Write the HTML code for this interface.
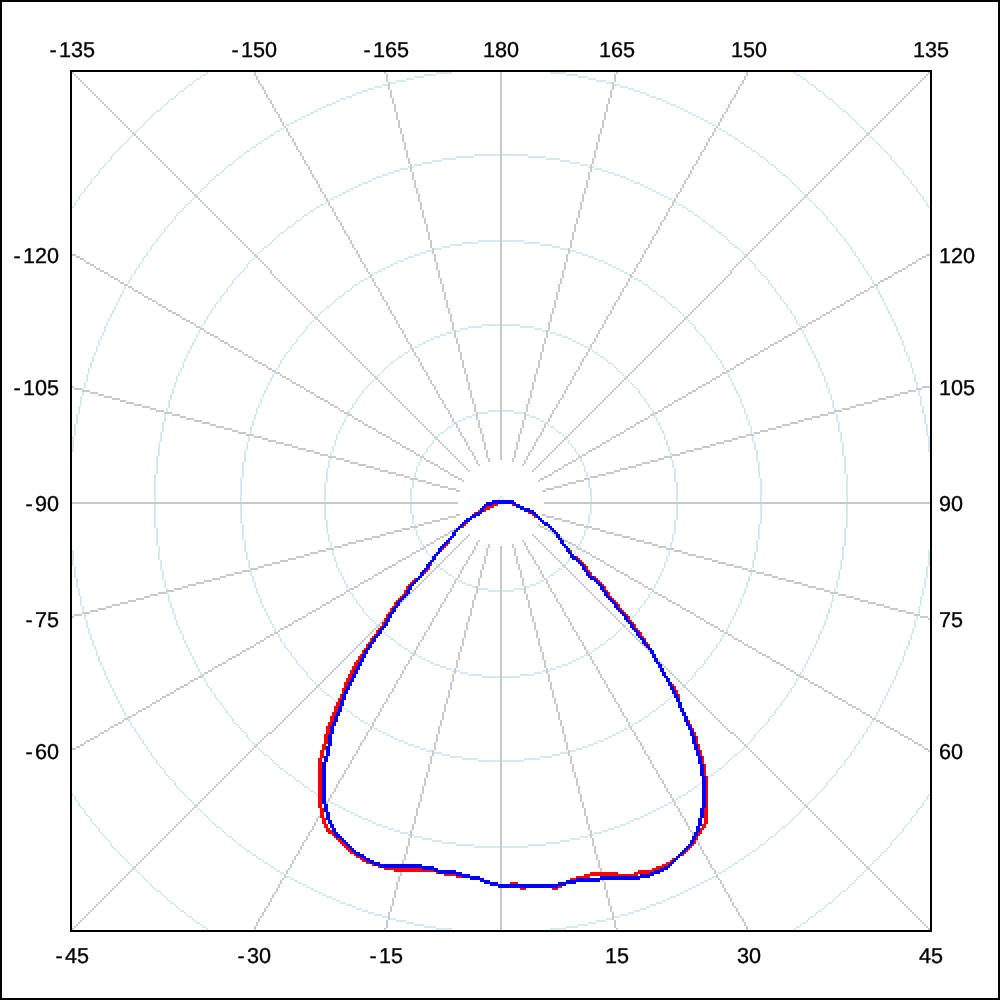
<!DOCTYPE html>
<html><head><meta charset="utf-8"><title>Polar diagram</title>
<style>
html,body{margin:0;padding:0;background:#fff;overflow:hidden;}
svg{display:block}
text{font-family:"Liberation Sans","DejaVu Sans",sans-serif;font-size:21.6px;fill:#000;stroke:#000;stroke-width:0.35px;}
</style></head><body>
<svg width="1000" height="1000" viewBox="0 0 1000 1000">
<rect x="0" y="0" width="1000" height="1000" fill="#fff"/>
<g transform="scale(2)" fill="none" stroke-width="1" shape-rendering="crispEdges">
<g stroke="#d4eaf2"><path transform="translate(0,0.5)" d="M0 0m218 36h8m49 0h8m-182 1h2m109 0h6m65 0h6m109 0h2m-193 1h5m77 0h5m-196 1h2m103 0h4m87 0h4m103 0h2m-205 1h5m95 0h5m-108 1h3m105 0h3m-212 1h2m95 0h3m113 0h3m95 0h2m-220 1h4m119 0h4m-130 1h3m127 0h3m-227 1h2m89 0h3m133 0h3m89 0h2m-233 1h3m139 0h3m-147 1h2m145 0h2m-152 1h3m149 0h3m-243 1h2m83 0h3m155 0h3m83 0h2m-248 1h2m161 0h2m-167 1h2m165 0h2m-172 1h3m169 0h3m-177 1h2m175 0h2m-181 1h2m179 0h2m-264 1h2m77 0h2m183 0h2m77 0h2m-268 1h2m187 0h2m-193 1h2m191 0h2m-197 1h2m195 0h2m-201 1h2m199 0h2m-205 1h2m203 0h2m-209 1h2m207 0h2m-213 1h2m211 0h2m-218 2h2m217 0h2m-223 1h2m221 0h2m-228 2h2m227 0h2m-234 2h2m233 0h2m-240 2h2m239 0h2m-246 2h2m245 0h2m-252 2h2m251 0h2m-141 2h13m1 0h13m-145 1h2m107 0h9m27 0h9m107 0h2m-161 1h7m45 0h7m-64 1h5m59 0h5m-74 1h5m69 0h5m-176 1h2m91 0h4m79 0h4m91 0h2m-187 2h4m93 0h4m-104 1h3m101 0h3m-110 1h3m107 0h3m-199 1h2m81 0h3m113 0h3m81 0h2m-205 1h3m119 0h3m-127 1h2m125 0h2m-131 1h2m129 0h2m-136 1h3m133 0h3m-141 1h2m139 0h2m-145 1h2m143 0h2m-149 1h2m147 0h2m-153 1h2m151 0h2m-157 1h2m155 0h2m-161 1h2m159 0h2m-165 1h2m163 0h2m-169 1h2m167 0h2m-176 3h2m177 0h2m-183 1h2m181 0h2m-188 2h2m187 0h2m-194 2h2m193 0h2m-201 3h2m201 0h2m-209 3h2m209 0h2m-217 3h2m217 0h2m-122 4h11m1 0h11m-31 1h8m23 0h8m-45 1h6m39 0h6m-144 1h2m87 0h4m51 0h4m87 0h2m-152 1h4m59 0h4m-71 1h3m69 0h3m-78 1h3m75 0h3m-84 1h3m81 0h3m-90 1h3m87 0h3m-95 1h2m93 0h2m-100 1h3m97 0h3m-105 1h2m103 0h2m-109 1h2m107 0h2m-113 1h2m111 0h2m-117 1h2m115 0h2m-121 1h2m119 0h2m-125 1h2m123 0h2m-132 3h2m133 0h2m-139 1h2m137 0h2m-144 2h2m143 0h2m-151 3h2m151 0h2m-159 3h2m159 0h2m-169 5h2m171 0h2m-97 9h9m1 0h9m-26 1h7m19 0h7m-37 1h4m33 0h4m-43 1h2m41 0h2m-50 1h3m49 0h3m-58 1h3m55 0h3m-64 1h3m61 0h3m-69 1h2m67 0h2m-73 1h2m71 0h2m-77 1h2m75 0h2m-81 1h2m79 0h2m-85 1h2m83 0h2m-92 3h2m93 0h2m-100 2h2m99 0h2m-107 3h2m107 0h2m-62 24h6m1 0h6m-18 1h5m13 0h5m-26 1h2m25 0h2m-32 1h3m29 0h3m-37 1h2m35 0h2m-41 1h2m39 0h2m-48 3h2m49 0h2m-57 3h2m57 0h2m-61 68h2m57 0h2m-57 3h2m49 0h2m-48 3h2m39 0h2m-41 1h2m35 0h2m-37 1h3m29 0h3m-32 1h2m25 0h2m-26 1h5m13 0h5m-18 1h6m1 0h6m-62 24h2m107 0h2m-107 3h2m99 0h2m-100 2h2m93 0h2m-94 2h2m87 0h2m-89 1h2m83 0h2m-85 1h2m79 0h2m-81 1h2m75 0h2m-77 1h2m71 0h2m-73 1h2m67 0h2m-69 1h3m61 0h3m-64 1h3m55 0h3m-58 1h3m49 0h3m-50 1h2m41 0h2m-43 1h4m33 0h4m-37 1h7m19 0h7m-26 1h9m1 0h9m-97 9h2m165 5h2m-159 3h2m151 0h2m-151 3h2m143 0h2m-144 2h2m137 0h2m-139 1h2m133 0h2m-132 3h2m123 0h2m-125 1h2m119 0h2m-121 1h2m115 0h2m-117 1h2m111 0h2m-113 1h2m107 0h2m-109 1h2m103 0h2m-105 1h3m97 0h3m-100 1h2m93 0h2m-95 1h3m87 0h3m-90 1h3m81 0h3m-84 1h3m75 0h3m-78 1h3m69 0h3m-71 1h4m59 0h4m-152 1h2m87 0h4m51 0h4m87 0h2m-144 1h6m39 0h6m-45 1h8m23 0h8m-31 1h11m1 0h11m-122 4h2m217 0h2m-217 3h2m209 0h2m-209 3h2m2 3h2m193 0h2m-194 2h2m187 0h2m-5 2h2m-4 1h2m-176 3h2m167 0h2m-169 1h2m163 0h2m-165 1h2m159 0h2m-161 1h2m155 0h2m-157 1h2m151 0h2m-153 1h2m147 0h2m-149 1h2m143 0h2m-145 1h2m139 0h2m-141 1h3m133 0h3m-136 1h2m129 0h2m-131 1h2m125 0h2m-127 1h3m119 0h3m-205 1h2m81 0h3m113 0h3m81 0h2m-199 1h3m107 0h3m-110 1h3m101 0h3m-104 1h4m93 0h4m-187 2h2m91 0h4m79 0h4m91 0h2m-176 1h5m69 0h5m-74 1h5m59 0h5m-64 1h7m45 0h7m-161 1h2m107 0h9m27 0h9m107 0h2m-145 1h13m1 0h13m-141 2h2m251 0h2m-252 2h2m245 0h2m-246 2h2m239 0h2m-240 2h2m233 0h2m-234 2h2m227 0h2m-228 2h2m221 0h2m-223 1h2m217 0h2m-218 2h2m211 0h2m-213 1h2m207 0h2m-209 1h2m203 0h2m-205 1h2m199 0h2m-201 1h2m195 0h2m-197 1h2m191 0h2m-193 1h2m187 0h2m-268 1h2m77 0h2m183 0h2m77 0h2m-264 1h2m179 0h2m-181 1h2m175 0h2m-177 1h3m169 0h3m-172 1h2m165 0h2m-167 1h2m161 0h2m-248 1h2m83 0h3m155 0h3m83 0h2m-243 1h3m149 0h3m-152 1h2m145 0h2m-147 1h3m139 0h3m-233 1h2m89 0h3m133 0h3m89 0h2m-227 1h3m127 0h3m-130 1h4m119 0h4m-220 1h2m95 0h3m113 0h3m95 0h2m-212 1h3m105 0h3m-108 1h5m95 0h5m-205 1h2m103 0h4m87 0h4m103 0h2m-196 1h5m77 0h5m-193 1h2m109 0h6m65 0h6m109 0h2m-182 1h8m49 0h8"/><path transform="translate(0.5,0)" d="M0 0m36 103v1m0 114v8m0 49v8m0 114v1m1-297v2m0 109v6m0 65v6m0 109v2m1-300v1m0 106v5m0 77v5m0 106v1m1-303v2m0 103v4m0 87v4m0 103v2m1-306v1m0 100v5m0 95v5m0 100v1m1-308v1m0 97v1m0 1v2m0 105v3m0 98v1m1-311v2m0 95v3m0 113v3m0 95v2m1-314v1m0 93v4m0 119v4m0 93v1m1-316v1m0 91v3m0 127v3m0 91v1m1-319v2m0 89v3m0 133v3m0 89v2m1-322v1m0 88v3m0 139v3m0 88v1m1-324v1m0 87v2m0 145v2m0 87v1m1-326v1m0 85v3m0 149v3m0 85v1m1-329v2m0 83v3m0 155v3m0 83v2m1-332v1m0 83v2m0 161v2m0 83v1m1-334v1m0 82v2m0 165v2m0 82v1m1-336v1m0 80v3m0 169v3m0 80v1m1-338v1m0 79v2m0 175v2m0 79v1m1-340v1m0 78v2m0 179v2m0 78v1m1-343v2m0 77v2m0 183v2m0 77v2m1-346v1m0 77v2m0 187v2m0 77v1m1-348v1m0 76v2m0 191v2m0 76v1m1-350v1m0 75v2m0 195v2m0 75v1m1-352v1m0 74v2m0 199v2m0 74v1m1-354v1m0 73v2m0 203v2m0 73v1m1-356v1m0 72v2m0 207v2m0 72v1m1-358v1m0 71v2m0 211v2m0 71v1m1-360v1m0 287v1m0 71v1m1-362v1m0 70v2m0 217v2m0 70v1m1-364v1m0 69v2m0 221v2m0 69v1m1-366v1m0 69v1m0 225v1m0 69v1m1-368v1m0 68v2m0 227v2m0 68v1m1-370v1m0 68v1m0 231v1m0 68v1m1-372v1m0 67v2m0 233v2m0 67v1m1-374v1m0 67v1m0 237v1m0 67v1m1-376v1m0 66v2m0 239v2m0 66v1m1-378v1m0 66v1m0 243v1m0 66v1m1-380v1m0 65v2m0 245v2m0 65v1m1-382v1m0 65v1m0 249v1m0 65v1m1-384v1m0 64v2m0 251v2m0 64v1m1-386v1m0 64v1m0 255v1m0 64v1m1-388v1m0 64v1m0 115v14m0 1v12m0 115v1m0 64v1m1-326v2m0 107v9m0 27v9m0 107v2m1-264v1m0 102v7m0 45v7m0 102v1m1-329v1m0 62v1m0 98v5m0 59v5m0 98v1m0 62v1m1-394v1m0 62v1m0 94v5m0 69v5m0 94v1m0 62v1m1-396v1m0 61v2m0 91v4m0 79v4m0 91v2m0 61v1m1-398v1m0 61v1m0 90v2m0 88v1m0 1v1m0 90v1m0 61v1m1-400v1m0 61v1m0 87v4m0 93v4m0 87v1m0 61v1m1-340v1m0 85v3m0 101v3m0 85v1m1-280v1m0 83v3m0 107v3m0 83v1m1-343v1m0 59v2m0 81v3m0 113v3m0 81v2m0 59v1m1-406v1m0 59v1m0 80v3m0 119v3m0 80v1m0 59v1m1-408v1m0 59v1m0 79v2m0 125v2m0 79v1m0 59v1m1-350v1m0 78v2m0 129v2m0 78v1m1-292v1m0 76v3m0 133v3m0 76v1m1-353v1m0 58v1m0 75v2m0 139v2m0 75v1m0 58v1m1-414v1m0 58v1m0 74v2m0 143v2m0 74v1m0 58v1m1-357v1m0 73v2m0 147v2m0 73v1m1-300v1m0 72v2m0 151v2m0 72v1m1-360v1m0 57v1m0 71v2m0 155v2m0 71v1m0 57v1m1-420v1m0 57v1m0 70v2m0 159v2m0 70v1m0 57v1m1-364v1m0 69v2m0 163v2m0 69v1m1-308v1m0 68v2m0 167v2m0 68v1m1-367v1m0 56v1m0 67v1m0 172v2m0 67v1m0 56v1m1-369v1m0 67v1m0 175v1m0 67v1m1-314v1m0 66v2m0 177v2m0 66v1m1-372v1m0 55v1m0 65v2m0 181v2m0 65v1m0 55v1m1-374v1m0 65v1m0 185v1m0 65v1m1-320v1m0 64v2m0 187v2m0 64v1m1-322v1m0 64v1m0 191v1m0 64v1m1-324v1m0 63v2m0 193v2m0 63v1m1-262v1m0 197v1m1-200v1m0 199v1m1-265v1m0 61v2m0 201v2m0 61v1m1-330v1m0 61v1m0 205v1m0 61v1m1-332v1m0 61v1m0 207v1m0 61v1m1-334v1m0 60v2m0 209v2m0 60v1m1-275v1m0 213v1m1-216v1m0 215v1m1-278v1m0 58v2m0 217v2m0 58v1m1-340v1m0 58v1m0 221v1m0 58v1m1-342v1m0 58v1m0 223v1m0 58v1m1-285v1m0 225v1m1-228v1m0 102v12m0 1v10m0 102v1m1-288v1m0 57v1m0 95v8m0 23v8m0 95v1m0 57v1m1-348v1m0 57v1m0 90v6m0 39v6m0 90v1m0 57v1m1-293v2m0 87v4m0 51v4m0 87v2m1-238v1m0 86v3m0 59v4m0 85v1m1-296v1m0 55v1m0 82v4m0 68v3m0 82v1m0 55v1m1-298v1m0 80v3m0 75v3m0 80v1m1-244v1m0 78v3m0 81v3m0 78v1m1-301v1m0 54v1m0 76v3m0 87v3m0 76v1m0 54v1m1-303v1m0 75v2m0 93v2m0 75v1m1-250v1m0 73v3m0 97v3m0 73v1m1-306v1m0 53v1m0 72v2m0 103v2m0 72v1m0 53v1m1-236v2m0 107v2m1-113v2m0 111v2m1-240v1m0 53v1m0 68v2m0 115v2m0 68v1m0 53v1m1-312v1m0 67v2m0 119v2m0 67v1m1-260v1m0 66v2m0 123v2m0 66v1m1-315v1m0 52v1m0 66v1m0 127v2m0 65v1m0 52v1m1-317v1m0 65v1m0 197v1m1-266v1m0 64v2m0 133v2m0 64v1m1-204v2m0 137v2m1-142v1m0 141v1m1-207v1m0 61v2m0 143v2m0 61v1m1-272v1m0 61v1m0 147v1m0 61v1m1-212v1m0 149v1m1-153v2m0 151v2m1-216v1m0 59v1m0 155v1m0 59v1m1-278v1m0 59v1m0 157v1m0 59v1m1-221v2m0 159v2m1-164v1m0 163v1m1-224v1m0 57v1m0 165v1m0 57v1m1-284v1m0 57v1m0 167v1m0 57v1m1-228v1m0 169v1m1-173v2m0 171v2m1-232v1m0 55v1m0 175v1m0 55v1m1-234v1m0 177v1m1-180v1m0 179v1m1-237v1m0 54v1m0 181v1m0 54v1m1-239v1m0 183v1m0 54v1m1-241v1m0 185v1m1-188v1m0 187v1m1-190v1m0 189v1m1-245v1m0 52v1m0 86v10m0 1v8m0 86v1m1-113v7m0 19v7m0 133v1m1-301v1m0 129v4m0 33v4m1-119v1m0 73v2m0 1v1m0 41v3m0 74v1m1-198v1m0 71v3m0 49v3m0 71v1m1-200v1m0 69v3m0 55v3m0 69v1m1-202v1m0 67v3m0 61v3m1-69v2m0 67v2m1-73v2m0 71v2m1-141v1m0 63v2m0 75v2m0 63v1m1-208v1m0 62v2m0 79v2m0 62v1m1-148v2m0 83v2m1-89v2m0 87v1m1-151v1m0 59v1m0 91v1m0 59v1m1-214v1m0 58v2m0 93v2m0 58v1m1-157v1m0 97v1m1-101v2m0 99v2m1-161v1m0 56v1m0 103v1m0 56v1m1-163v1m0 105v1m1-109v2m0 107v2m1-112v1m0 111v1m1-114v1m0 113v1m1-170v1m0 53v1m0 115v1m0 53v1m1-172v1m0 117v1m1-173v1m0 52v1m0 119v1m0 52v1m1-175v1m0 121v1m1-124v1m0 123v1m1-126v1m0 125v1m1-128v1m1-2v1m0 129v1m1-132v1m0 131v1m1-134v1m0 133v1m1-136v1m0 135v1m3-139v1m0 139v1m1-142v1m0 141v1m3-145v1m0 145v1m3-241v1m0 91v1m0 149v1m0 91v1m1-244v1m0 69v7m0 1v5m1-174v1m0 156v4m0 13v5m0 155v1m1-182v3m0 23v1m0 1v1m1-32v3m0 29v3m1-37v2m0 35v2m1-41v2m0 39v2m1-45v1m0 44v2m1-48v1m0 47v1m1-51v2m0 49v2m1-54v1m0 53v1m1-56v1m0 55v1m1-59v2m1-3v1m0 61v1m1-64v1m0 63v1m1-66v1m0 65v1m3-69v1m0 69v1m1-72v1m0 71v1m3-122v1m0 46v1m0 75v1m0 46v1m1-47v1m1-79v1m21 37v1m1-2v1m0 3v1m1-4v1m21-39v1m1 77v1m1-125v1m0 46v1m0 75v1m0 46v1m3-122v1m0 71v1m1-72v1m0 69v1m3-69v1m0 65v1m1-66v1m0 63v1m1-64v1m0 61v1m1-62v2m0 57v2m1-59v1m1 0v1m1 0v2m0 49v2m1-51v1m0 47v1m1-48v1m0 44v2m1-45v2m0 39v2m1-41v2m0 35v2m1-37v3m0 29v3m1-32v3m0 23v1m0 1v1m1-182v1m0 156v4m0 13v5m0 155v1m1-244v1m0 69v7m0 1v5m1-174v1m0 91v1m0 149v1m0 91v1m3-241v1m0 145v1m3-145v1m0 141v1m1-142v1m0 139v1m3-139v1m0 135v1m1-136v1m0 133v1m1-134v1m0 131v1m1-132v1m0 129v1m1-130v1m0 127v1m1-128v1m0 125v1m1-126v1m0 123v1m1-124v1m0 121v1m1-175v1m0 52v1m0 172v1m1-173v1m0 117v1m1-172v1m0 53v1m0 115v1m0 53v1m1-170v1m0 113v1m1-114v1m0 111v1m1-112v2m0 107v2m1-109v1m0 105v1m1-163v1m0 56v1m0 103v1m0 56v1m1-161v2m0 99v2m1-101v1m0 97v1m1-157v1m0 58v2m0 93v2m0 58v1m1-214v1m0 59v1m0 91v1m0 59v1m1-152v2m0 87v1m1-88v2m0 83v2m1-148v1m0 62v2m0 79v2m0 62v1m1-208v1m0 63v2m0 75v2m0 63v1m1-141v2m0 71v2m1-73v2m0 67v2m1-137v1m0 67v3m0 61v3m0 67v1m1-202v1m0 69v3m0 55v3m0 69v1m1-200v1m0 71v3m0 49v3m0 71v1m1-198v1m0 73v2m0 1v1m0 41v3m0 74v1m1-249v1m0 129v4m0 33v4m0 76v1m1-114v7m0 19v7m0 133v1m1-300v1m0 52v1m0 86v10m0 1v8m0 139v1m1-245v1m0 189v1m1-190v1m0 187v1m1-188v1m0 185v1m1-186v1m0 183v1m1-239v1m0 54v1m0 181v1m0 54v1m1-237v1m0 179v1m1-180v1m0 177v1m1-234v1m0 55v1m0 175v1m0 55v1m1-232v2m0 171v2m1-173v1m0 169v1m1-228v1m0 57v1m0 167v1m0 57v1m1-284v1m0 57v1m0 165v1m0 57v1m1-224v1m0 163v1m1-164v2m0 159v2m1-221v1m0 59v1m0 157v1m1-218v1m0 59v1m0 155v1m0 59v1m1-216v2m0 151v2m1-153v1m0 149v1m1-212v1m0 61v1m0 147v1m0 61v1m1-272v1m0 61v2m0 143v2m0 61v1m1-207v1m0 141v1m1-142v2m0 137v2m1-204v1m0 64v2m0 133v2m0 64v1m1-266v1m0 65v1m0 197v1m1-317v1m0 52v1m0 66v1m0 127v2m0 65v1m0 52v1m1-315v1m0 66v2m0 123v2m0 66v1m1-260v1m0 67v2m0 119v2m0 67v1m1-312v1m0 53v1m0 68v2m0 115v2m0 68v1m0 53v1m1-240v2m0 111v2m1-113v2m0 107v2m1-236v1m0 53v1m0 72v2m0 103v2m0 72v1m0 53v1m1-306v1m0 73v3m0 97v3m0 73v1m1-250v1m0 75v2m0 93v2m0 75v1m1-303v1m0 54v1m0 76v3m0 87v3m0 76v1m0 54v1m1-301v1m0 78v3m0 81v3m0 78v1m1-244v1m0 80v3m0 75v3m0 80v1m1-298v1m0 55v1m0 82v4m0 67v1m0 1v2m0 82v1m0 55v1m1-296v1m0 86v3m0 59v4m0 85v1m1-238v2m0 87v4m0 51v4m0 87v2m1-293v1m0 57v1m0 90v6m0 39v6m0 90v1m0 57v1m1-348v1m0 57v1m0 95v8m0 23v8m0 95v1m0 57v1m1-288v1m0 102v12m0 1v10m0 102v1m1-228v1m0 225v1m1-285v1m0 58v1m0 223v1m0 58v1m1-342v1m0 58v1m0 221v1m0 58v1m1-340v1m0 58v2m0 217v2m0 58v1m1-278v1m0 215v1m1-216v1m0 213v1m1-275v1m0 60v2m0 209v2m0 60v1m1-334v1m0 61v1m0 207v1m0 61v1m1-332v1m0 61v1m0 205v1m0 61v1m1-330v1m0 61v2m0 201v2m0 61v1m1-265v1m0 199v1m1-200v1m0 197v1m1-262v1m0 63v2m0 193v2m0 63v1m1-324v1m0 64v1m0 191v1m0 64v1m1-322v1m0 64v2m0 187v2m0 64v1m1-320v1m0 65v1m0 185v1m0 65v1m1-374v1m0 55v1m0 65v2m0 181v2m0 65v1m0 55v1m1-372v1m0 66v2m0 177v2m0 66v1m1-314v1m0 67v1m0 175v1m0 67v1m1-369v1m0 56v1m0 67v1m0 172v2m0 67v1m0 56v1m1-367v1m0 68v2m0 167v2m0 68v1m1-308v1m0 69v2m0 163v2m0 69v1m1-364v1m0 57v1m0 70v2m0 159v2m0 70v1m0 57v1m1-420v1m0 57v1m0 71v2m0 155v2m0 71v1m0 57v1m1-360v1m0 72v2m0 151v2m0 72v1m1-300v1m0 73v2m0 147v2m0 73v1m1-357v1m0 58v1m0 74v2m0 143v2m0 74v1m0 58v1m1-414v1m0 58v1m0 75v2m0 139v2m0 75v1m0 58v1m1-353v1m0 76v3m0 133v3m0 76v1m1-292v1m0 78v2m0 129v2m0 78v1m1-350v1m0 59v1m0 79v2m0 125v2m0 79v1m0 59v1m1-408v1m0 59v1m0 80v3m0 119v3m0 80v1m0 59v1m1-406v1m0 59v2m0 81v3m0 113v3m0 81v2m0 59v1m1-343v1m0 83v3m0 107v3m0 83v1m1-280v1m0 85v3m0 101v3m0 85v1m1-340v1m0 61v1m0 87v4m0 93v4m0 87v1m0 61v1m1-400v1m0 61v1m0 90v1m0 1v1m0 87v2m0 91v1m0 61v1m1-398v1m0 61v2m0 91v4m0 79v4m0 91v2m0 61v1m1-396v1m0 62v1m0 94v5m0 69v5m0 94v1m0 62v1m1-394v1m0 62v1m0 98v5m0 59v5m0 98v1m0 62v1m1-329v1m0 102v7m0 45v7m0 102v1m1-264v2m0 107v9m0 27v9m0 107v2m1-326v1m0 64v1m0 115v14m0 1v12m0 115v1m0 64v1m1-388v1m0 64v1m0 255v1m0 64v1m1-386v1m0 64v2m0 251v2m0 64v1m1-384v1m0 65v1m0 249v1m0 65v1m1-382v1m0 65v2m0 245v2m0 65v1m1-380v1m0 66v1m0 243v1m0 66v1m1-378v1m0 66v2m0 239v2m0 66v1m1-376v1m0 67v1m0 237v1m0 67v1m1-374v1m0 67v2m0 233v2m0 67v1m1-372v1m0 68v1m0 231v1m0 68v1m1-370v1m0 68v2m0 227v2m0 68v1m1-368v1m0 69v1m0 225v1m0 69v1m1-366v1m0 69v2m0 221v2m0 69v1m1-364v1m0 70v2m0 218v1m0 70v1m1-362v1m0 287v1m0 71v1m1-360v1m0 71v2m0 211v2m0 71v1m1-358v1m0 72v2m0 207v2m0 72v1m1-356v1m0 73v2m0 203v2m0 73v1m1-354v1m0 74v2m0 199v2m0 74v1m1-352v1m0 75v2m0 195v2m0 75v1m1-350v1m0 76v2m0 191v2m0 76v1m1-348v1m0 77v2m0 187v2m0 77v1m1-346v2m0 77v2m0 183v2m0 77v2m1-343v1m0 78v2m0 179v2m0 78v1m1-340v1m0 79v2m0 175v2m0 79v1m1-338v1m0 80v3m0 169v3m0 80v1m1-336v1m0 82v2m0 165v2m0 82v1m1-334v1m0 83v2m0 161v2m0 83v1m1-332v2m0 83v3m0 155v3m0 83v2m1-329v1m0 85v3m0 149v3m0 85v1m1-326v1m0 87v2m0 145v2m0 87v1m1-324v1m0 88v3m0 139v3m0 88v1m1-322v2m0 89v3m0 133v3m0 89v2m1-319v1m0 91v3m0 127v3m0 91v1m1-316v1m0 93v4m0 119v4m0 93v1m1-314v2m0 95v3m0 114v2m0 95v2m1-311v1m0 98v3m0 105v4m0 97v1m1-308v1m0 100v5m0 95v5m0 100v1m1-306v2m0 103v4m0 87v4m0 103v2m1-303v1m0 106v5m0 77v5m0 106v1m1-300v2m0 109v6m0 65v6m0 109v2m1-297v1m0 114v8m0 49v8m0 114v1"/></g>
<g stroke="#c9c9c9"><path transform="translate(0,0.5)" d="M0 0m36 127h2m425 0h2m-427 1h2m421 0h2m-423 1h2m417 0h2m-418 2h2m411 0h2m-413 1h2m407 0h2m-408 2h2m401 0h2m-403 1h2m397 0h2m-399 1h2m393 0h2m-394 2h2m387 0h2m-389 1h2m383 0h2m-4 1h2m-382 1h2m0 1h2m373 0h2m-375 1h2m369 0h2m-370 2h2m363 0h2m-365 1h2m359 0h2m-4 1h2m-358 1h2m0 1h2m349 0h2m-351 1h2m345 0h2m-346 2h2m339 0h2m-341 1h2m335 0h2m-4 1h2m-334 1h2m0 1h2m325 0h2m-327 1h2m321 0h2m-322 2h2m315 0h2m-317 1h2m311 0h2m-313 1h2m307 0h2m-308 2h2m301 0h2m-303 1h2m297 0h2m-298 2h2m291 0h2m-293 1h2m287 0h2m-289 1h2m283 0h2m-284 2h2m277 0h2m-279 1h2m273 0h2m-4 1h2m-272 1h2m0 1h2m263 0h2m-265 1h2m259 0h2m-260 2h2m253 0h2m-255 1h2m249 0h2m-4 1h2m-248 1h2m0 1h2m239 0h2m-241 1h2m235 0h2m-236 2h2m229 0h2m-231 1h2m225 0h2m-227 1h2m221 0h2m-222 2h2m215 0h2m-217 1h2m211 0h2m-212 2h2m205 0h2m-207 1h2m201 0h2m-203 1h2m197 0h2m110 0h4m-428 1h4m417 0h3m-420 1h4m108 0h2m191 0h2m106 0h4m-413 1h4m106 0h2m187 0h2m104 0h4m-405 1h3m395 0h3m-398 1h4m102 0h2m181 0h2m100 0h4m-391 1h4m100 0h2m177 0h2m98 0h4m-383 1h3m99 0h2m173 0h2m97 0h3m-376 1h4m365 0h4m-369 1h4m94 0h2m167 0h2m92 0h4m-361 1h4m92 0h2m163 0h2m91 0h3m-353 1h3m343 0h4m-347 1h4m88 0h2m157 0h2m86 0h4m-339 1h4m86 0h2m153 0h2m85 0h3m-331 1h4m84 0h2m149 0h2m83 0h4m-324 1h3m313 0h4m-317 1h4m80 0h2m143 0h2m78 0h4m-309 1h4m78 0h2m139 0h2m77 0h3m-301 1h4m213 0h2m75 0h4m-294 1h3m74 0h2m207 0h4m-287 1h4m72 0h2m129 0h2m71 0h3m-279 1h4m70 0h2m125 0h2m69 0h4m-272 1h3m261 0h4m-265 1h4m66 0h2m119 0h2m65 0h3m-257 1h4m64 0h2m115 0h2m63 0h4m-250 1h4m62 0h2m111 0h2m61 0h4m-242 1h3m232 0h3m-235 1h4m58 0h2m105 0h2m57 0h4m-228 1h4m56 0h2m101 0h2m55 0h4m-220 1h4m209 0h3m-212 1h3m52 0h2m95 0h2m51 0h4m-206 1h4m50 0h2m91 0h2m49 0h4m-198 1h4m48 0h2m87 0h2m47 0h4m-190 1h3m180 0h3m-183 1h4m44 0h2m81 0h2m43 0h4m-176 1h4m42 0h2m77 0h2m41 0h4m-168 1h4m157 0h3m-160 1h3m38 0h2m71 0h2m37 0h4m-154 1h4m36 0h2m67 0h2m35 0h4m-146 1h4m34 0h2m63 0h2m34 0h3m-138 1h4m127 0h4m-131 1h3m30 0h2m57 0h2m29 0h4m-124 1h4m28 0h2m53 0h2m28 0h3m-116 1h4m105 0h4m-109 1h4m23 0h2m47 0h2m23 0h4m-101 1h3m22 0h2m43 0h2m21 0h4m-94 1h4m20 0h2m39 0h2m20 0h3m-86 1h4m75 0h4m-79 1h3m68 0h4m-72 1h4m61 0h3m-64 1h4m53 0h4m-57 1h4m45 0h4m-49 1h2m41 0h2m-237 6h193m43 0h193m-237 6h2m41 0h2m-49 1h4m45 0h4m-57 1h4m53 0h4m-65 1h4m61 0h4m-73 1h4m69 0h3m-79 1h3m76 0h4m-87 1h4m61 0h2m20 0h4m-95 1h4m67 0h2m22 0h4m-103 1h4m24 0h2m47 0h2m24 0h3m-110 1h4m106 0h4m-117 1h3m29 0h2m83 0h4m-125 1h4m30 0h2m89 0h4m-133 1h4m32 0h2m95 0h3m-140 1h4m100 0h2m34 0h4m-148 1h4m37 0h2m67 0h2m36 0h4m-155 1h3m39 0h2m71 0h2m38 0h3m-162 1h4m158 0h4m-170 1h4m43 0h2m77 0h2m42 0h4m-178 1h4m45 0h2m81 0h2m44 0h4m-186 1h4m47 0h2m85 0h2m46 0h3m-192 1h3m189 0h4m-200 1h4m51 0h2m91 0h2m50 0h4m-208 1h4m53 0h2m95 0h2m52 0h4m-216 1h4m55 0h2m99 0h2m54 0h3m-223 1h4m219 0h4m-231 1h4m60 0h2m105 0h2m58 0h4m-238 1h3m62 0h2m109 0h2m60 0h4m-246 1h4m63 0h2m177 0h3m-253 1h4m183 0h2m64 0h4m-261 1h4m68 0h2m119 0h2m66 0h4m-269 1h4m70 0h2m123 0h2m68 0h4m-276 1h3m273 0h3m-283 1h4m74 0h2m129 0h2m72 0h4m-291 1h4m76 0h2m133 0h2m74 0h4m-299 1h4m78 0h2m137 0h2m76 0h4m-307 1h4m303 0h3m-313 1h3m83 0h2m143 0h2m80 0h4m-321 1h4m84 0h2m147 0h2m82 0h4m-329 1h4m86 0h2m237 0h3m-336 1h4m244 0h2m86 0h4m-344 1h4m91 0h2m157 0h2m88 0h4m-351 1h3m93 0h2m161 0h2m90 0h4m-359 1h4m94 0h2m259 0h3m-366 1h4m266 0h2m94 0h4m-374 1h4m99 0h2m171 0h2m96 0h4m-382 1h4m101 0h2m175 0h2m98 0h4m-389 1h3m386 0h3m-396 1h4m105 0h2m181 0h2m102 0h4m-404 1h4m107 0h2m185 0h2m104 0h4m-412 1h4m109 0h2m189 0h2m106 0h4m-420 1h4m416 0h3m-309 1h2m195 0h2m110 0h4m-315 1h2m199 0h2m-205 1h2m204 1h2m-211 1h2m209 0h2m-215 1h2m213 0h2m-219 1h2m218 1h2m-225 1h2m223 0h2m-229 1h2m227 0h2m-233 1h2m232 1h2m-239 1h2m237 0h2m-243 1h2m242 1h2m-249 1h2m247 0h2m-253 1h2m251 0h2m-257 1h2m256 1h2m-263 1h2m261 0h2m-267 1h2m265 0h2m-271 1h2m270 1h2m-277 1h2m275 0h2m-281 1h2m279 0h2m-285 1h2m284 1h2m-291 1h2m289 0h2m-295 1h2m294 1h2m-301 1h2m299 0h2m-305 1h2m303 0h2m-309 1h2m308 1h2m-315 1h2m313 0h2m-319 1h2m317 0h2m-323 1h2m322 1h2m-329 1h2m327 0h2m-333 1h2m-4 1h2m334 0h2m0 1h2m-343 1h2m341 0h2m-347 1h2m346 1h2m-353 1h2m351 0h2m-357 1h2m355 0h2m-361 1h2m360 1h2m-367 1h2m365 0h2m-371 1h2m-4 1h2m372 0h2m0 1h2m-381 1h2m379 0h2m-385 1h2m-4 1h2m386 0h2m0 1h2m-395 1h2m393 0h2m-399 1h2m82 0h2m229 0h2m83 1h2m-405 1h2m403 0h2m-409 1h2m407 0h2m-413 1h2m412 1h2m-419 1h2m417 0h2m-423 1h2m-4 1h2m424 0h2"/><path transform="translate(0.5,0)" d="M0 0m36 36v1m0 156v1m0 114v1m0 155v1m1-428v1m0 425v1m1-426v1m0 423v1m1-424v1m0 421v1m1-422v1m0 419v1m1-420v1m0 417v1m1-418v1m0 87v1m0 240v1m0 86v1m1-416v1m0 413v1m1-414v1m0 411v1m1-412v1m0 409v1m1-410v1m0 407v1m1-408v1m0 85v1m0 319v1m1-406v1m0 403v1m1-404v1m0 317v1m0 83v1m1-402v1m0 399v1m1-400v1m0 397v1m1-398v1m0 395v1m1-396v1m0 393v1m1-394v1m0 82v1m0 226v1m0 81v1m1-392v1m0 389v1m1-390v1m0 387v1m1-388v1m0 385v1m1-386v1m0 383v1m1-384v1m0 80v1m0 300v1m1-382v1m0 379v1m1-380v1m0 298v1m0 78v1m1-378v1m0 375v1m1-376v1m0 373v1m1-374v1m0 371v1m1-372v1m0 369v1m1-370v1m0 77v1m0 289v1m1-368v1m0 365v1m1-366v1m0 287v1m0 75v1m1-364v1m0 361v1m1-362v1m0 359v1m1-360v1m0 75v1m0 281v1m1-358v1m0 355v1m1-356v1m0 353v1m1-354v1m0 351v1m1-352v1m0 276v1m0 72v1m1-350v1m0 347v1m1-348v1m0 345v1m1-346v1m0 72v1m0 270v1m1-344v1m0 341v1m1-342v1m0 268v1m0 70v1m1-340v1m0 337v1m1-338v1m0 335v1m1-336v1m0 70v1m0 262v1m1-334v1m0 331v1m1-332v1m0 329v1m1-330v1m0 327v1m1-328v1m0 257v1m0 67v1m1-326v1m0 323v1m1-324v1m0 321v1m1-322v1m0 67v1m0 251v1m1-320v1m0 317v1m1-318v1m0 315v1m1-316v1m0 313v1m1-314v1m0 246v1m0 64v1m1-312v1m0 309v1m1-310v1m0 307v1m1-308v1m0 64v1m0 240v1m1-306v1m0 303v1m1-304v1m0 301v1m1-302v1m0 299v1m1-300v1m0 235v1m0 61v1m1-298v1m0 62v1m0 232v1m1-296v1m0 293v1m1-294v1m0 291v1m1-292v1m0 289v1m1-290v1m0 227v1m0 59v1m1-288v1m0 285v1m1-286v1m0 283v1m1-284v1m0 59v1m0 221v1m1-282v1m0 279v1m1-280v1m0 277v1m1-278v1m0 275v1m1-276v1m0 216v1m0 56v1m1-274v1m0 57v1m0 213v1m1-272v1m0 269v1m1-270v1m0 267v1m1-268v1m0 265v1m1-266v1m0 263v1m1-264v1m0 261v1m1-262v1m0 205v1m0 53v1m1-260v1m0 54v1m0 202v1m1-258v1m0 255v1m1-256v1m0 253v1m1-254v1m0 251v1m1-252v1m0 249v1m1-250v1m0 52v1m0 194v1m1-339v2m0 89v1m0 194v1m0 50v1m0 89v2m1-427v2m0 88v1m0 243v1m0 88v2m1-423v2m0 87v1m0 241v1m0 87v2m1-419v1m0 87v1m0 239v1m0 87v1m1-416v2m0 86v1m0 237v1m0 86v2m1-413v2m0 85v1m0 186v1m0 48v1m0 85v2m1-409v2m0 84v1m0 49v1m0 183v1m0 85v1m1-405v1m0 84v1m0 316v2m1-403v2m0 83v2m0 312v2m1-399v2m0 83v1m0 227v1m0 81v2m1-395v2m0 82v1m0 225v1m0 81v1m1-391v1m0 82v1m0 223v1m0 80v2m1-389v2m0 81v1m0 174v1m0 46v1m0 79v2m1-385v2m0 80v1m0 45v1m0 173v1m0 78v2m1-381v2m0 79v1m0 217v1m0 78v1m1-377v1m0 79v1m0 215v1m0 77v2m1-375v2m0 78v1m0 213v1m0 76v2m1-371v2m0 77v1m0 211v1m0 76v1m1-367v1m0 77v1m0 43v1m0 165v1m0 75v2m1-365v2m0 76v1m0 163v1m0 43v1m0 74v2m1-361v2m0 75v1m0 205v1m0 73v2m1-357v2m0 74v1m0 203v1m0 73v1m1-353v1m0 74v1m0 201v1m0 72v2m1-351v2m0 73v1m0 199v1m0 71v2m1-347v2m0 72v1m0 197v1m0 70v2m1-343v2m0 71v1m0 40v1m0 154v1m0 70v1m1-339v1m0 71v1m0 152v1m0 40v1m0 69v2m1-337v2m0 70v1m0 191v1m0 68v2m1-333v2m0 69v1m0 189v1m0 68v1m1-329v2m0 68v1m0 187v1m0 67v2m1-326v1m0 68v1m0 38v1m0 146v1m0 66v2m1-323v2m0 67v1m0 183v1m0 65v2m1-319v2m0 66v1m0 181v1m0 65v1m1-315v2m0 65v1m0 141v1m0 37v1m1-246v1m0 65v1m0 177v1m1-244v2m0 64v1m0 175v1m1-241v2m0 63v1m0 173v1m0 62v1m1-301v2m0 62v1m0 35v1m0 135v1m0 61v2m1-298v1m0 62v1m0 133v1m0 35v1m0 60v2m1-295v2m0 61v1m0 167v1m0 60v1m1-291v2m0 60v1m0 165v1m0 59v2m1-288v2m0 59v1m0 163v1m0 58v2m1-284v1m0 59v1m0 33v1m0 127v1m0 57v2m1-281v2m0 58v1m0 159v1m0 57v1m1-277v2m0 57v1m0 157v1m0 56v2m1-274v2m0 56v1m0 122v1m0 32v1m0 55v2m1-270v1m0 56v1m0 153v1m0 55v1m1-267v2m0 55v1m0 151v1m0 54v2m1-264v2m0 54v1m0 149v1m0 53v2m1-260v2m0 53v1m0 30v1m0 116v1m0 52v2m1-256v1m0 53v1m0 145v1m0 52v1m1-253v2m0 52v1m0 143v1m0 51v2m1-250v2m0 51v1m0 111v1m0 29v1m0 50v2m1-246v2m0 50v1m0 139v1m0 49v2m1-242v1m0 50v1m0 28v1m0 108v1m0 49v1m1-239v2m0 49v1m0 135v1m0 48v2m1-236v2m0 48v1m0 133v1m0 47v2m1-232v1m0 48v1m0 131v1m0 47v1m1-229v2m0 47v1m0 129v1m0 46v2m1-226v2m0 46v1m0 100v1m0 26v1m0 45v2m1-222v2m0 45v1m0 125v1m0 44v2m1-218v1m0 45v1m0 25v1m0 97v1m0 44v1m1-215v2m0 44v1m0 121v1m0 43v2m1-212v2m0 43v1m0 119v1m0 42v2m1-208v2m0 42v1m0 92v1m0 24v1m0 41v2m1-318v1m0 113v1m0 42v1m0 157v1m0 112v1m1-428v4m0 110v2m0 41v1m0 154v2m0 109v4m1-423v4m0 108v2m0 40v1m0 151v2m0 107v4m1-415v4m0 106v2m0 39v1m0 22v1m0 126v1m0 106v3m1-407v3m0 105v1m0 39v1m0 146v2m0 103v4m1-401v4m0 102v2m0 38v1m0 143v2m0 101v4m1-393v4m0 100v2m0 37v1m0 81v1m0 58v2m0 99v4m1-385v4m0 98v2m0 36v1m0 138v1m0 98v3m1-377v3m0 97v1m0 36v1m0 20v1m0 78v1m0 35v2m0 97v2m1-371v4m0 94v2m0 35v1m0 97v1m0 34v2m0 93v2m1-361v4m0 92v2m0 34v1m0 95v1m0 33v2m0 92v3m1-355v4m0 90v2m0 33v1m0 93v1m0 33v1m0 90v4m1-348v3m0 89v1m0 33v1m0 91v1m0 32v2m0 87v4m1-341v4m0 86v2m0 32v1m0 70v1m0 18v1m0 31v2m0 85v4m1-333v4m0 84v2m0 31v1m0 87v1m0 31v1m0 84v3m1-325v4m0 82v2m0 30v1m0 17v1m0 67v1m0 30v2m0 81v4m1-318v3m0 81v1m0 30v1m0 83v1m0 29v2m0 79v4m1-311v4m0 78v2m0 29v1m0 81v1m0 28v2m0 78v3m1-303v4m0 76v2m0 28v1m0 79v1m0 28v1m0 76v4m1-296v4m0 74v2m0 27v1m0 77v1m0 27v2m0 73v4m1-288v3m0 73v1m0 27v1m0 15v1m0 43v1m0 15v1m0 26v2m0 71v4m1-281v4m0 70v2m0 26v1m0 73v1m0 26v1m0 70v3m1-273v4m0 68v2m0 25v1m0 71v1m0 25v2m0 67v4m1-266v4m0 66v2m0 24v1m0 69v1m0 24v2m0 65v4m1-258v3m0 65v1m0 24v1m0 67v1m0 23v2m0 64v3m1-251v4m0 62v2m0 23v1m0 51v1m0 13v1m0 23v1m0 62v4m1-244v4m0 60v2m0 22v1m0 63v1m0 22v2m0 59v4m1-236v4m0 58v2m0 21v1m0 12v1m0 48v1m0 21v2m0 57v4m1-228v3m0 57v1m0 21v1m0 59v1m0 20v2m0 56v3m1-221v4m0 54v2m0 20v1m0 57v1m0 20v1m0 54v4m1-214v4m0 52v2m0 19v1m0 55v1m0 19v2m0 51v4m1-206v4m0 50v1m0 19v1m0 53v1m0 18v2m0 50v3m1-198v3m0 48v2m0 18v1m0 10v1m0 29v1m0 10v1m0 18v1m0 48v4m1-192v4m0 46v2m0 17v1m0 49v1m0 17v2m0 45v4m1-184v4m0 44v2m0 16v1m0 47v1m0 16v2m0 43v4m1-176v4m0 42v1m0 16v1m0 35v1m0 9v1m0 15v2m0 42v3m1-168v3m0 40v2m0 15v1m0 43v1m0 15v1m0 40v4m1-162v4m0 38v2m0 14v1m0 41v1m0 14v2m0 37v4m1-154v4m0 36v2m0 13v1m0 39v1m0 13v2m0 36v3m1-146v4m0 34v1m0 13v1m0 7v1m0 29v1m0 12v2m0 34v4m1-139v3m0 32v2m0 12v1m0 35v1m0 12v1m0 32v4m1-132v4m0 30v2m0 11v1m0 33v1m0 11v2m0 29v4m1-124v4m0 28v2m0 10v1m0 31v1m0 10v2m0 28v3m1-116v4m0 26v1m0 51v1m0 26v4m1-109v3m0 24v2m0 47v2m0 23v4m1-102v4m0 22v2m0 43v2m0 22v3m1-94v4m0 20v2m0 39v2m0 20v4m1-87v4m0 18v1m0 37v1m0 18v4m1-79v3m0 68v4m1-72v4m0 61v3m1-64v4m0 53v4m1-57v4m0 45v4m1-49v2m0 41v2m6-238v194m0 43v169m0 2v21m6-236v2m0 41v2m1-49v4m0 45v4m1-57v4m0 53v4m1-65v4m0 61v3m1-71v3m0 68v4m1-79v4m0 18v1m0 37v1m0 18v4m1-87v4m0 20v2m0 39v2m0 20v4m1-95v4m0 22v2m0 43v2m0 22v3m1-101v3m0 24v2m0 47v2m0 23v4m1-109v4m0 26v1m0 51v1m0 26v4m1-117v4m0 28v2m0 10v1m0 31v1m0 10v2m0 28v3m1-124v4m0 30v2m0 11v1m0 33v1m0 11v2m0 29v4m1-131v3m0 32v2m0 12v1m0 35v1m0 12v1m0 32v4m1-139v4m0 34v1m0 13v1m0 7v1m0 21v1m0 7v1m0 12v2m0 34v4m1-147v4m0 36v2m0 13v1m0 39v1m0 13v2m0 36v3m1-154v4m0 38v2m0 14v1m0 41v1m0 14v2m0 37v4m1-161v3m0 40v2m0 15v1m0 43v1m0 15v1m0 40v4m1-169v4m0 42v1m0 16v1m0 45v1m0 15v2m0 42v3m1-176v4m0 44v2m0 16v1m0 47v1m0 16v2m0 43v4m1-184v4m0 46v2m0 17v1m0 49v1m0 17v2m0 45v4m1-191v3m0 48v2m0 18v1m0 10v1m0 29v1m0 10v1m0 18v1m0 48v4m1-199v4m0 50v1m0 19v1m0 42v1m0 10v1m0 18v2m0 50v3m1-206v4m0 52v2m0 19v1m0 55v1m0 19v2m0 51v4m1-214v4m0 54v2m0 20v1m0 57v1m0 20v1m0 54v4m1-221v3m0 57v1m0 21v1m0 46v1m0 12v1m0 20v2m0 56v3m1-228v4m0 58v2m0 21v1m0 12v1m0 35v1m0 12v1m0 21v2m0 57v4m1-236v4m0 60v2m0 22v1m0 63v1m0 22v2m0 59v4m1-244v4m0 62v2m0 23v1m0 65v1m0 23v1m0 62v4m1-251v3m0 65v1m0 24v1m0 67v1m0 23v2m0 64v3m1-258v4m0 66v2m0 24v1m0 69v1m0 24v2m0 65v4m1-266v4m0 68v2m0 25v1m0 71v1m0 25v2m0 67v4m1-274v4m0 70v2m0 26v1m0 73v1m0 26v1m0 70v3m1-280v3m0 73v1m0 27v1m0 15v1m0 43v1m0 15v1m0 26v2m0 71v4m1-288v4m0 74v2m0 27v1m0 77v1m0 27v2m0 73v4m1-296v4m0 76v2m0 28v1m0 79v1m0 28v1m0 76v4m1-304v4m0 78v2m0 29v1m0 81v1m0 28v2m0 78v3m1-310v3m0 81v1m0 30v1m0 83v1m0 29v2m0 79v4m1-318v4m0 82v2m0 30v1m0 17v1m0 67v1m0 30v2m0 81v4m1-326v4m0 84v2m0 31v1m0 87v1m0 31v1m0 84v3m1-333v4m0 86v2m0 32v1m0 70v1m0 18v1m0 31v2m0 85v4m1-340v3m0 89v1m0 33v1m0 91v1m0 32v2m0 87v4m1-348v4m0 90v2m0 33v1m0 93v1m0 33v1m0 90v4m1-356v4m0 92v2m0 34v1m0 95v1m0 33v2m0 92v3m1-363v4m0 94v2m0 35v1m0 97v1m0 34v2m0 93v4m1-370v3m0 97v1m0 36v1m0 20v1m0 78v1m0 35v2m0 95v2m1-376v4m0 98v2m0 36v1m0 101v1m0 36v1m0 100v1m1-385v4m0 100v2m0 37v1m0 81v1m0 21v1m0 36v2m0 99v4m1-393v4m0 102v2m0 38v1m0 105v1m0 37v2m0 101v4m1-400v3m0 105v1m0 39v1m0 107v1m0 38v2m0 103v4m1-408v4m0 106v2m0 39v1m0 22v1m0 86v1m0 39v1m0 106v3m1-415v4m0 108v2m0 40v1m0 111v1m0 39v2m0 107v4m1-423v4m0 110v2m0 41v1m0 89v1m0 23v1m0 40v2m0 109v4m1-428v1m0 113v1m0 42v1m0 115v1m0 41v1m0 112v1m1-317v2m0 42v1m0 117v1m0 41v2m1-208v2m0 43v1m0 119v1m0 42v2m1-212v2m0 44v1m0 121v1m0 43v2m1-215v1m0 45v1m0 25v1m0 97v1m0 44v1m1-218v2m0 45v1m0 125v1m0 44v2m1-222v2m0 46v1m0 100v1m0 26v1m0 45v2m1-226v2m0 47v1m0 129v1m0 46v2m1-229v1m0 48v1m0 131v1m0 47v1m1-232v2m0 48v1m0 27v1m0 105v1m0 47v2m1-236v2m0 49v1m0 135v1m0 48v2m1-239v1m0 50v1m0 137v1m0 49v1m1-242v2m0 50v1m0 139v1m0 49v2m1-246v2m0 51v1m0 111v1m0 29v1m0 50v2m1-250v2m0 52v1m0 143v1m0 51v2m1-253v1m0 53v1m0 145v1m0 52v1m1-256v2m0 53v1m0 30v1m0 116v1m0 52v2m1-260v2m0 54v1m0 203v2m1-264v2m0 55v1m0 119v1m0 86v2m1-267v1m0 56v1m0 209v1m1-270v2m0 56v1m0 211v2m1-274v2m0 57v1m0 157v1m0 56v2m1-278v2m0 58v1m0 159v1m0 57v1m1-280v1m0 59v1m0 33v1m0 127v1m0 57v2m1-284v2m0 59v1m0 163v1m0 58v2m1-288v2m0 60v1m0 130v1m0 34v1m0 59v2m1-292v2m0 61v1m0 167v1m0 60v1m1-294v1m0 62v1m0 169v1m0 60v2m1-298v2m0 62v1m0 35v1m0 135v1m0 61v2m1-302v2m0 63v1m0 173v1m0 62v2m1-306v2m0 64v1m0 175v1m0 63v1m1-308v1m0 65v1m0 177v1m0 63v2m1-312v2m0 65v1m0 141v1m0 37v1m0 64v2m1-316v2m0 66v1m0 181v1m0 65v1m1-319v2m0 67v1m0 183v1m0 65v2m1-322v1m0 68v1m0 38v1m0 146v1m0 66v2m1-326v2m0 68v1m0 187v1m0 67v2m1-330v2m0 69v1m0 189v1m0 68v1m1-333v2m0 70v1m0 191v1m0 68v2m1-336v1m0 71v1m0 152v1m0 40v1m1-269v2m0 71v1m0 40v1m0 154v1m0 70v1m1-343v2m0 72v1m0 197v1m0 70v2m1-347v2m0 73v1m0 199v1m0 71v2m1-350v1m0 74v1m0 201v1m0 72v2m1-354v2m0 74v1m0 160v1m0 42v1m0 73v1m1-357v2m0 75v1m0 205v1m0 73v2m1-361v2m0 76v1m0 207v1m0 74v2m1-364v1m0 77v1m0 43v1m0 165v1m0 75v2m1-368v2m0 77v1m0 211v1m0 76v1m1-371v2m0 78v1m0 213v1m0 76v2m1-374v1m0 79v1m0 215v1m0 77v2m1-378v2m0 79v1m0 171v1m0 45v1m0 78v1m1-381v2m0 80v1m0 45v1m0 173v1m0 78v2m1-385v2m0 81v1m0 221v1m0 79v2m1-388v1m0 82v1m0 223v1m0 80v2m1-392v2m0 82v1m0 225v1m0 81v1m1-395v2m0 83v1m0 227v1m0 81v2m1-399v2m0 83v2m0 312v2m1-402v1m0 84v1m0 183v1m0 132v2m1-406v2m0 84v1m0 49v1m0 183v1m0 85v1m1-409v2m0 85v1m0 235v1m0 85v2m1-413v2m0 86v1m0 237v1m0 86v2m1-416v1m0 87v1m0 239v1m0 87v1m1-419v2m0 87v1m0 191v1m0 49v1m0 87v2m1-423v2m0 88v1m0 51v1m0 191v1m0 88v2m1-427v2m0 89v1m0 245v1m0 89v2m1-339v1m0 247v1m1-250v1m0 249v1m1-252v1m0 251v1m1-254v1m0 253v1m1-256v1m0 202v1m0 52v1m1-258v1m0 54v1m0 202v1m1-260v1m0 259v1m1-262v1m0 261v1m1-264v1m0 263v1m1-266v1m0 265v1m1-268v1m0 56v1m0 210v1m1-270v1m0 213v1m0 55v1m1-272v1m0 271v1m1-274v1m0 273v1m1-276v1m0 275v1m1-278v1m0 277v1m1-280v1m0 279v1m1-282v1m0 59v1m0 221v1m1-284v1m0 224v1m0 58v1m1-286v1m0 285v1m1-288v1m0 287v1m1-290v1m0 289v1m1-292v1m0 291v1m1-294v1m0 232v1m0 60v1m1-296v1m0 62v1m0 232v1m1-298v1m0 297v1m1-300v1m0 299v1m1-302v1m0 301v1m1-304v1m0 303v1m1-306v1m0 64v1m0 240v1m1-308v1m0 243v1m0 63v1m1-310v1m0 309v1m1-312v1m0 311v1m1-314v1m0 313v1m1-316v1m0 315v1m1-318v1m0 317v1m1-320v1m0 67v1m0 251v1m1-322v1m0 254v1m0 66v1m1-324v1m0 323v1m1-326v1m0 325v1m1-328v1m0 327v1m1-330v1m0 69v1m0 259v1m1-332v1m0 262v1m0 68v1m1-334v1m0 333v1m1-336v1m0 335v1m1-338v1m0 337v1m1-340v1m0 339v1m1-342v1m0 341v1m1-344v1m0 72v1m0 270v1m1-346v1m0 273v1m0 71v1m1-348v1m0 347v1m1-350v1m0 349v1m1-352v1m0 351v1m1-354v1m0 74v1m0 278v1m1-356v1m0 355v1m1-358v1m0 357v1m1-360v1m0 284v1m0 74v1m1-362v1m0 361v1m1-364v1m0 363v1m1-366v1m0 365v1m1-368v1m0 77v1m0 289v1m1-370v1m0 292v1m0 76v1m1-372v1m0 371v1m1-374v1m0 373v1m1-376v1m0 375v1m1-378v1m0 79v1m0 297v1m1-380v1m0 379v1m1-382v1m0 381v1m1-384v1m0 303v1m0 79v1m1-386v1m0 385v1m1-388v1m0 387v1m1-390v1m0 389v1m1-392v1m0 82v1m0 308v1m1-394v1m0 393v1m1-396v1m0 395v1m1-398v1m0 314v1m0 82v1m1-400v1m0 399v1m1-402v1m0 401v1m1-404v1m0 403v1m1-406v1m0 85v1m0 319v1m1-408v1m0 407v1m1-410v1m0 409v1m1-412v1m0 325v1m0 85v1m1-414v1m0 413v1m1-416v1m0 87v1m0 327v1m1-418v1m0 417v1m1-420v1m0 419v1m1-422v1m0 333v1m0 87v1m1-424v1m0 423v1m1-426v1m0 425v1m1-428v1m0 272v1m0 65v1m0 88v1"/></g>
<g stroke="#ff0000"><path transform="translate(0,0.5)" d="M0 0m246 252h3m-6 1h4m-5 1h3m-66 74h2m-3 2h2m-3 1h2m-2 1h2m-3 1h2m-2 1h2m-3 1h2m-2 1h2m-3 1h2m-2 1h2m-3 1h2m-2 1h2m-3 1h2m-2 1h2m-3 2h2m-4 5h2m-3 2h2m-2 1h2m-3 1h2m-2 1h2m-2 1h2m-3 1h2m-2 1h2m-3 1h2m-2 1h2m-2 1h2m-3 1h2m-2 1h2m-3 1h2m-2 1h2m-2 1h2m-2 1h2m-3 1h2m-2 1h2m-2 1h2m-2 1h2m-2 1h2m-3 1h2m-2 1h2m-2 1h2m-3 1h2m-2 1h2m-2 1h2m-2 1h2m-3 1h2m-2 1h2m-2 1h2m-2 1h2m-2 1h2m-2 1h2m-2 1h2m-2 1h2m-2 1h2m-2 1h2m-2 1h2m-2 1h2m-2 1h2m-2 1h2m-2 1h2m-2 1h2m-2 1h2m-2 1h2m-2 1h2m-2 1h2m-2 1h2m-2 1h2m-2 1h2m-2 1h2m-2 1h2m-1 1h2m190 0h2m-194 1h2m190 0h2m-194 1h2m190 0h2m-194 1h2m190 0h2m-194 1h2m190 0h2m-193 1h2m189 0h2m-193 1h2m189 0h2m-193 1h2m189 0h2m-192 1h2m187 0h2m-191 1h2m187 0h2m-190 1h2m185 0h2m-189 1h3m-2 1h3m182 0h2m-183 3h2m-1 1h2m-1 1h2m-1 1h2m-1 1h2m-1 1h2m-1 1h2m-1 1h2m1 2h2m0 1h2m-1 1h2m0 1h2m148 0h2m-4 1h3m-6 1h4m-140 1h19m115 0h4m-133 1h20m102 0h8m-32 1h14m8 0h8m-103 1h6m64 0h27m-91 1h3m57 0h7m-10 1h3m-33 2h4m20 2h2m-21 1h3m13 0h3"/><path transform="translate(0.5,0)" d="M0 0m166 417v1m1 0v1m2-69v1m1-4v2m1-4v2m1-4v1m5 83v1m2-99v1m1-3v1m1-3v2m1-3v1m1-3v2m1-3v1m1-3v2m1-3v1m0 113v1m1-116v1m1-3v2m1-3v1m0 118v1m1-121v1m1-3v2m1-4v2m1-4v2m1-3v1m1-3v2m1-3v1m1-3v2m1-3v1m1-2v1m1-2v1m1-2v1m1-3v2m1-4v2m1-3v1m1-2v1m1-2v1m1-2v1m5-4v1m1-2v1m1-2v1m1-3v1m3 153v1m3-163v1m1-2v1m1-2v1m1-2v1m7-9v1m1-2v1m1-2v1m4-6v1m2-2v1m3-1v1m14-4v1m8 3v1m2 0v1m1 0v1m18 16v1m3 2v1m1 0v1m1 0v1m1 0v1m1 0v1m1 0v2m1 0v1m1 0v2m2 0v1m1 0v1m1 0v1m1 0v1m1 0v1m1 0v2m1 0v1m1 0v2m1 0v1m1 0v1m1 0v1m1 0v1m1 0v2m1 0v1m1 0v1m1 0v1m1 0v1m1 0v2m1 0v1m1 0v1m1 0v2m1 0v1m1 0v1m1 0v2m1 0v1m1 0v1m1 1v1m1 0v1m11 107v1m1-89v1m0 86v1m1-87v2m1 0v2m1 0v2m2 78v1m1-2v1m1-2v1m1-66v1m0 63v1m1-63v1m0 60v1m1-60v1m0 57v1m1-57v2m0 52v2m1-54v4m0 46v2m1-48v3m0 42v1m1-43v3m0 37v1m1-38v4m1 0v6m1 0v16"/></g>
<g stroke="#0000ff"><path transform="translate(0,0.5)" d="M0 0m246 250h11m-14 1h15m-16 1h4m11 0h3m-19 1h2m15 0h4m-22 1h2m18 0h5m-25 1h2m20 0h5m-29 1h3m24 0h3m-32 1h4m27 0h2m-34 1h3m30 0h2m-37 1h3m33 0h2m-39 1h3m35 0h2m-41 1h2m38 0h3m-44 1h2m40 0h3m-46 1h2m43 0h2m-48 1h2m45 0h2m-50 1h2m47 0h2m-52 1h2m49 0h2m-53 1h2m50 0h2m-55 1h2m51 0h2m-56 1h2m53 0h2m-58 1h2m55 0h2m-60 1h2m56 0h2m-61 1h2m58 0h2m-63 1h2m60 0h2m-65 1h2m62 0h2m-66 1h2m62 0h2m-67 1h2m64 0h2m-69 1h2m66 0h2m-71 1h2m67 0h3m-72 1h2m68 0h3m-74 1h2m71 0h2m-76 1h2m73 0h2m-78 1h2m75 0h2m-79 1h2m76 0h2m-81 1h2m77 0h2m-82 1h2m79 0h2m-84 1h2m81 0h2m-85 1h2m81 0h2m-86 1h2m83 0h3m-89 1h2m85 0h3m-91 1h2m88 0h2m-93 1h2m90 0h2m-95 1h2m92 0h2m-97 1h2m94 0h2m-98 1h2m94 0h2m-99 1h2m96 0h2m-100 1h2m97 0h2m-102 1h2m98 0h2m-103 1h2m100 0h2m-105 1h2m102 0h2m-107 1h2m104 0h2m-109 1h2m106 0h2m-110 1h2m107 0h2m-112 1h2m108 0h2m-113 1h2m110 0h2m-114 1h2m111 0h2m-116 1h2m113 0h2m-118 1h2m115 0h2m-119 1h2m116 0h2m-121 1h2m117 0h2m-121 1h2m118 0h2m-123 1h2m120 0h2m-124 1h2m121 0h2m-126 1h2m122 0h2m-127 1h2m124 0h2m-129 1h2m126 0h2m-130 1h2m127 0h2m-132 1h2m128 0h2m-133 1h2m130 0h2m-135 1h2m132 0h2m-136 1h2m133 0h2m-138 1h2m134 0h2m-139 1h2m136 0h2m-140 1h2m137 0h2m-142 1h2m139 0h2m-144 1h2m141 0h2m-145 1h2m141 0h2m-146 1h2m143 0h2m-147 1h2m143 0h2m-148 1h2m145 0h2m-149 1h2m145 0h2m-150 1h2m147 0h2m-151 1h2m148 0h2m-153 1h2m149 0h2m-153 1h2m150 0h2m-155 1h2m151 0h2m-155 1h2m152 0h2m-157 1h2m153 0h2m-157 1h2m154 0h2m-159 1h2m156 0h2m-160 1h2m156 0h2m-161 1h2m158 0h2m-162 1h2m158 0h2m-163 1h2m160 0h2m-164 1h2m160 0h2m-165 1h2m162 0h2m-166 1h2m162 0h2m-167 1h2m164 0h2m-168 1h2m164 0h2m-168 1h2m165 0h2m-170 1h2m166 0h2m-170 1h2m167 0h2m-171 1h2m167 0h2m-172 1h2m168 0h2m-172 1h2m169 0h2m-173 1h2m169 0h2m-174 1h2m171 0h2m-175 1h2m171 0h2m-176 1h2m173 0h2m-177 1h2m173 0h2m-177 1h2m173 0h2m-178 1h2m175 0h2m-179 1h2m175 0h2m-180 1h2m177 0h2m-181 1h2m177 0h2m-181 1h2m178 0h2m-182 1h2m178 0h2m-183 1h2m179 0h2m-183 1h2m180 0h2m-184 1h2m180 0h2m-184 1h2m180 0h2m-184 1h2m180 0h2m-184 1h2m181 0h2m-186 1h2m182 0h2m-186 1h2m182 0h2m-186 1h2m183 0h2m-187 1h2m183 0h2m-187 1h2m183 0h2m-188 1h2m185 0h2m-189 1h2m185 0h2m-189 1h2m185 0h2m-190 1h2m186 0h2m-190 1h2m187 0h2m-191 1h2m187 0h2m-191 1h2m187 0h2m-191 1h2m187 0h2m-191 1h2m187 0h2m-191 1h2m187 0h2m-191 1h2m188 0h2m-192 1h2m188 0h2m-192 1h2m188 0h2m-192 1h2m188 0h2m-192 1h2m188 0h2m-192 1h2m188 0h2m-192 1h2m188 0h2m-192 1h2m188 0h2m-192 1h2m188 0h2m-192 1h2m188 0h2m-192 1h2m188 0h2m-192 1h2m188 0h2m-192 1h2m188 0h2m-192 1h2m188 0h2m-191 1h2m187 0h2m-191 1h2m187 0h2m-191 1h2m186 0h2m-190 1h2m186 0h2m-189 1h2m185 0h2m-189 1h2m185 0h2m-189 1h2m185 0h2m-189 1h2m184 0h2m-187 1h2m183 0h2m-187 1h2m183 0h2m-186 1h2m182 0h2m-186 1h2m181 0h2m-184 1h2m180 0h2m-184 1h2m180 0h2m-183 1h2m178 0h2m-182 1h3m177 0h2m-181 1h3m175 0h2m-178 1h2m174 0h2m-177 1h2m172 0h2m-175 1h2m171 0h2m-174 1h2m169 0h2m-172 1h2m167 0h2m-170 1h2m165 0h2m-168 1h2m163 0h2m-166 1h3m160 0h2m-164 1h4m157 0h2m-161 1h3m155 0h2m-158 1h3m152 0h2m-156 1h4m149 0h2m-153 1h5m145 0h2m-150 1h24m123 0h2m-146 1h27m115 0h3m-124 1h8m111 0h4m-117 1h11m99 0h5m-113 1h12m94 0h5m-102 1h7m85 0h7m-96 1h9m60 0h25m-90 1h7m46 0h32m-80 1h5m38 0h17m-58 1h7m30 0h9m-43 1h38m-34 1h30"/><path transform="translate(0.5,0)" d="M0 0"/></g>
</g>
<g shape-rendering="crispEdges" fill="none" stroke="#000" stroke-width="2">
<rect x="71" y="71" width="860" height="860"/>
<rect x="1" y="1" width="998" height="998"/>
</g>
<g text-rendering="geometricPrecision">
<text x="49.4 59 71 83" y="57">-135</text>
<text x="231.4 241 253 265" y="57">-150</text>
<text x="363.4 373 385 397" y="57">-165</text>
<text x="483 495 507" y="57">180</text>
<text x="599 611 623" y="57">165</text>
<text x="731 743 755" y="57">150</text>
<text x="913 925 937" y="57">135</text>
<text x="55.4 65 77" y="963">-45</text>
<text x="237.4 247 259" y="963">-30</text>
<text x="369.4 379 391" y="963">-15</text>
<text x="605 617" y="963">15</text>
<text x="737 749" y="963">30</text>
<text x="919 931" y="963">45</text>
<text x="13.4 23 35 47" y="263">-120</text>
<text x="13.4 23 35 47" y="395">-105</text>
<text x="25.4 35 47" y="511">-90</text>
<text x="25.4 35 47" y="627">-75</text>
<text x="25.4 35 47" y="759">-60</text>
<text x="939 951 963" y="263">120</text>
<text x="939 951 963" y="395">105</text>
<text x="939 951" y="511">90</text>
<text x="939 951" y="627">75</text>
<text x="939 951" y="759">60</text>
</g>
</svg>
</body></html>
